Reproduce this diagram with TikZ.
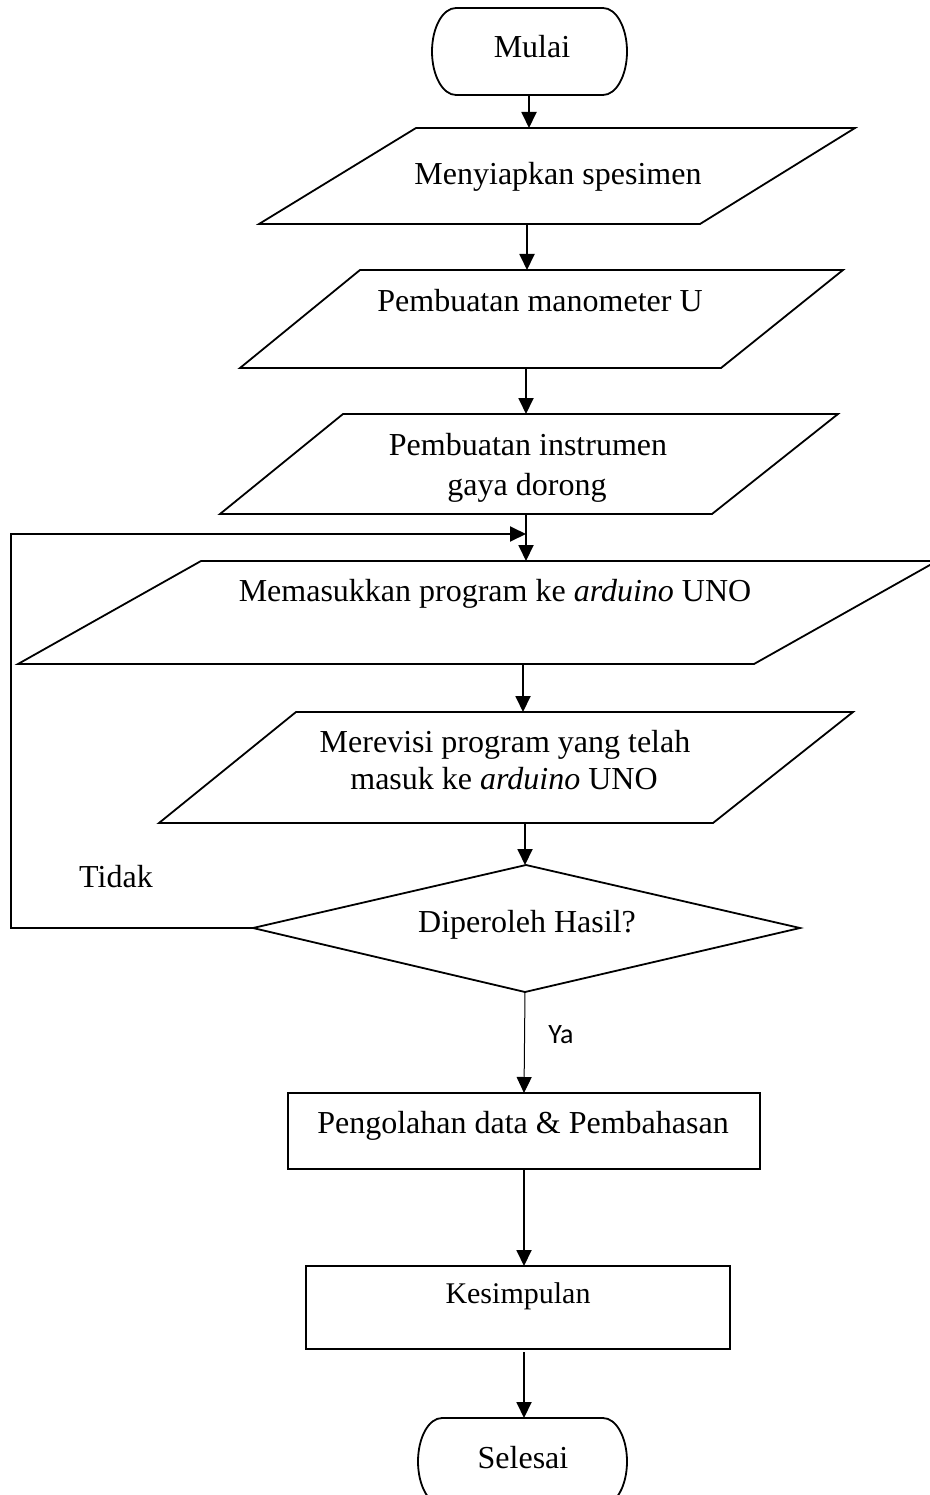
\documentclass[tikz,border=0pt]{standalone}
\usepackage{fontspec}
\setmainfont{Liberation Serif}
\newfontfamily\yafont{Carlito}
\usetikzlibrary{arrows.meta}
\tikzset{
  shapeline/.style={draw=black, line width=1.8pt, line join=miter},
  conn/.style={draw=black, line width=1.9pt, -{Triangle[width=15pt,length=16pt]}},
  thinconn/.style={draw=black, line width=1pt, -{Triangle[width=15pt,length=16pt]}},
  lbl/.style={inner sep=0pt, anchor=base, font=\fontsize{32}{38}\selectfont},
}
\begin{document}
\begin{tikzpicture}[x=1pt,y=-1pt]
\useasboundingbox (0,0) rectangle (929,1495);
\fill[white] (0,0) rectangle (929,1495);

% Mulai terminal
\draw[shapeline] (456,8) -- (603,8) arc[start angle=-90, end angle=90, x radius=24, y radius=43.5]
  -- (456,95) arc[start angle=90, end angle=270, x radius=24, y radius=43.5] -- cycle;
\node[lbl] (mulai) at (532,58) {Mulai};
\coordinate (mulaiB) at (529,95);

% P1
\draw[shapeline] (416,128) -- (855,128) -- (700,224) -- (259,224) -- cycle;
\node[lbl] (p1) at (558,185) {Menyiapkan spesimen};
\coordinate (p1T) at (529,128);
\coordinate (p1B) at (527,224);

% P2
\draw[shapeline] (360,270) -- (843,270) -- (721,368) -- (240,368) -- cycle;
\node[lbl] (p2) at (540,312) {Pembuatan manometer U};
\coordinate (p2T) at (527,270);
\coordinate (p2B) at (526,368);

% P3
\draw[shapeline] (343,414) -- (838,414) -- (712,514) -- (220,514) -- cycle;
\node[lbl] (p3a) at (528,455) {Pembuatan instrumen};
\node[lbl] (p3b) at (527,495) {gaya dorong};
\coordinate (p3T) at (526,414);
\coordinate (p3B) at (526,514);

% P4
\draw[shapeline] (201,561) -- (937,561) -- (754,664) -- (18,664) -- cycle;
\node[lbl] (p4) at (495,601) {Memasukkan program ke \textit{arduino} UNO};
\coordinate (p4T) at (526,561);
\coordinate (p4B) at (523,664);
\coordinate (fbJ) at (526,534);

% P5
\draw[shapeline] (296,712) -- (853,712) -- (713,823) -- (159,823) -- cycle;
\node[lbl] (p5a) at (505,752) {Merevisi program yang telah};
\node[lbl] (p5b) at (504,789) {masuk ke \textit{arduino} UNO};
\coordinate (p5T) at (523,712);
\coordinate (p5B) at (525,823);

% Decision
\draw[shapeline] (526,865) -- (800,928) -- (525,992) -- (253,928) -- cycle;
\node[lbl] (dec) at (527,932) {Diperoleh Hasil?};
\coordinate (decT) at (525,865);
\coordinate (decB) at (525,992);
\coordinate (decL) at (253,928);
\coordinate (fbA) at (11,928);
\coordinate (fbB) at (11,534);
\node[lbl] (tidak) at (116,887) {Tidak};
\node[inner sep=0pt, anchor=base, font=\yafont\fontsize{28}{34}\selectfont] (ya) at (561,1043) {Ya};

% R1
\draw[shapeline] (288,1093) rectangle (760,1169);
\node[lbl] (r1) at (523,1133) {Pengolahan data \& Pembahasan};
\coordinate (r1T) at (524,1093);
\coordinate (r1B) at (524,1169);

% R2
\draw[shapeline] (306,1266) rectangle (730,1349);
\node[lbl, font=\fontsize{30}{36}\selectfont] (r2) at (518,1303) {Kesimpulan};
\coordinate (r2T) at (524,1266);
\coordinate (r2B) at (524,1352);

% Selesai terminal
\draw[shapeline] (442,1418) -- (603,1418) arc[start angle=-90, end angle=90, x radius=24, y radius=43.5]
  -- (442,1505) arc[start angle=90, end angle=270, x radius=24, y radius=43.5] -- cycle;
\node[lbl] (selesai) at (523,1468) {Selesai};
\coordinate (selT) at (524,1418);

% connectors
\draw[conn] (mulaiB) -- (p1T);
\draw[conn] (p1B) -- (p2T);
\draw[conn] (p2B) -- (p3T);
\draw[conn] (p3B) -- (p4T);
\draw[conn] (decL) -- (fbA) -- (fbB) -- (fbJ);
\draw[conn] (p4B) -- (p5T);
\draw[conn] (p5B) -- (decT);
\draw[thinconn] (decB) -- (r1T);
\draw[conn] (r1B) -- (r2T);
\draw[conn] (r2B) -- (selT);
\end{tikzpicture}
\end{document}
